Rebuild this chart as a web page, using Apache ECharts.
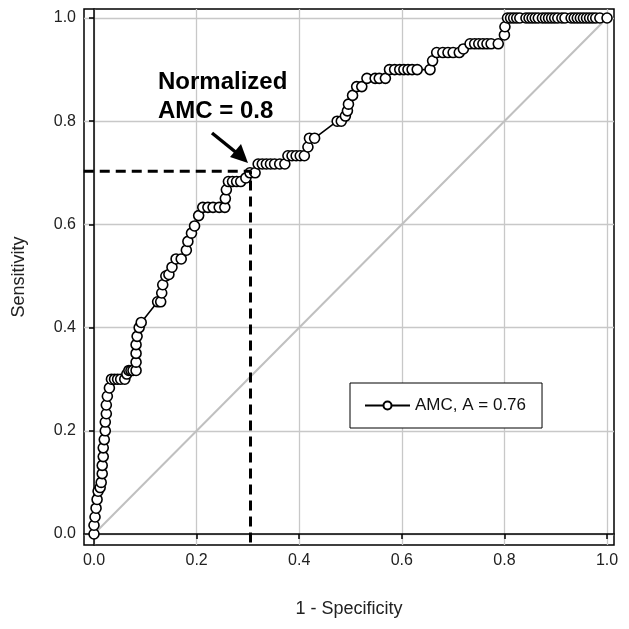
<!DOCTYPE html>
<html>
<head>
<meta charset="utf-8">
<script src="https://cdn.jsdelivr.net/npm/echarts@6/dist/echarts.min.js"></script>
<style>
html,body{margin:0;padding:0;background:#fff;}
#c{width:629px;height:629px;}
</style>
</head>
<body>
<div id="c"></div>
<script>
// ROC curve data (1 - specificity, sensitivity)
var fpr = [
0.000,0.000,0.002,0.004,0.006,0.008,0.012,0.014,0.016,0.016,0.018,0.018,0.020,0.022,0.022,0.024,0.024,0.026,0.030,0.034,
0.040,0.046,0.052,0.060,0.064,0.068,0.072,0.076,0.082,0.082,0.082,0.082,0.084,0.088,0.092,0.124,0.130,0.132,0.134,0.140,
0.146,0.152,0.160,0.170,0.180,0.183,0.190,0.196,0.204,0.212,0.222,0.232,0.244,0.255,0.256,0.258,0.262,0.270,0.278,0.286,
0.296,0.304,0.314,0.320,0.328,0.336,0.344,0.352,0.362,0.372,0.378,0.386,0.394,0.402,0.410,0.417,0.420,0.430,0.474,0.482,
0.490,0.494,0.496,0.504,0.512,0.522,0.532,0.548,0.556,0.568,0.576,0.586,0.596,0.604,0.612,0.620,0.630,0.655,0.660,0.668,
0.680,0.690,0.700,0.712,0.720,0.733,0.742,0.750,0.758,0.766,0.774,0.788,0.800,0.801,0.806,0.812,0.818,0.824,0.830,0.842,
0.848,0.854,0.860,0.866,0.874,0.880,0.886,0.892,0.898,0.904,0.912,0.918,0.930,0.936,0.942,0.948,0.954,0.960,0.966,0.972,
0.978,0.986,1.000
];
var tpr = [
0.000,0.017,0.033,0.050,0.067,0.083,0.090,0.100,0.117,0.133,0.150,0.167,0.183,0.200,0.217,0.233,0.250,0.267,0.283,0.300,
0.300,0.300,0.300,0.300,0.310,0.317,0.317,0.317,0.317,0.333,0.350,0.367,0.383,0.400,0.410,0.450,0.450,0.467,0.483,0.500,
0.503,0.517,0.533,0.533,0.550,0.567,0.583,0.597,0.617,0.633,0.633,0.633,0.633,0.633,0.650,0.667,0.683,0.683,0.683,0.683,
0.690,0.700,0.700,0.717,0.717,0.717,0.717,0.717,0.717,0.717,0.733,0.733,0.733,0.733,0.733,0.750,0.767,0.767,0.800,0.800,
0.810,0.820,0.833,0.850,0.867,0.867,0.883,0.883,0.883,0.883,0.900,0.900,0.900,0.900,0.900,0.900,0.900,0.900,0.917,0.933,
0.933,0.933,0.933,0.933,0.940,0.950,0.950,0.950,0.950,0.950,0.950,0.950,0.967,0.983,1.000,1.000,1.000,1.000,1.000,1.000,
1.000,1.000,1.000,1.000,1.000,1.000,1.000,1.000,1.000,1.000,1.000,1.000,1.000,1.000,1.000,1.000,1.000,1.000,1.000,1.000,
1.000,1.000,1.000
];
var tickValues = [0, 0.2, 0.4, 0.6, 0.8, 1.0];
var diagX = [0, 1];
var diagY = [0, 1];
var cutX = [-0.02, 0.305, 0.305];
var cutY = [0.703, 0.703, -0.025];
var seriesName = 'AMC, A = 0.76';
var annotation = 'Normalized\nAMC = 0.8';

function pairs(a, b) { return a.map(function (v, i) { return [v, b[i]]; }); }

var font = 'Arial, "Liberation Sans", sans-serif';
var chart = echarts.init(document.getElementById('c'), null, {renderer: 'canvas'});
var axisCommon = {
  type: 'value',
  nameLocation: 'middle',
  nameTextStyle: {fontFamily: font, fontSize: 18, color: '#222'},
  axisLine: {show: true, lineStyle: {color: '#000', width: 1.5}},
  axisTick: {show: true, inside: false, length: 5, customValues: tickValues, lineStyle: {color: '#000', width: 1.5}},
  axisLabel: {customValues: tickValues, fontFamily: font, fontSize: 16, color: '#222', formatter: function (v) { return v.toFixed(1); }},
  splitLine: {show: true, lineStyle: {color: '#c8c8c8', width: 1.3}}
};
chart.setOption({
  animation: false,
  backgroundColor: '#fff',
  grid: {left: 84, top: 9, right: 15, bottom: 84, show: true, borderColor: '#000', borderWidth: 1.5, backgroundColor: 'transparent'},
  xAxis: Object.assign({}, axisCommon, {min: -0.0195, max: 1.0136, name: '1 - Specificity', nameGap: 55,
    axisLabel: Object.assign({}, axisCommon.axisLabel, {margin: 8})}),
  yAxis: Object.assign({}, axisCommon, {min: -0.0213, max: 1.0174, name: 'Sensitivity', nameGap: 56,
    axisLabel: Object.assign({}, axisCommon.axisLabel, {margin: 8})}),
  legend: {
    data: [seriesName], left: 350, top: 383, orient: 'vertical',
    backgroundColor: '#fff', borderColor: '#000', borderWidth: 1,
    padding: [14, 16, 14, 14], itemWidth: 45, itemHeight: 10, itemGap: 5,
    textStyle: {fontFamily: font, fontSize: 17, color: '#111'}
  },
  graphic: [
    {type: 'text', left: 158, top: 68, z: 100, style: {text: annotation, font: 'bold 24px ' + font, fill: '#000', lineHeight: 29}},
    {type: 'line', z: 100, shape: {x1: 212, y1: 133, x2: 238, y2: 154}, style: {stroke: '#000', lineWidth: 3.5}},
    {type: 'polygon', z: 100, shape: {points: [[248, 163], [230, 157], [241, 144]]}, style: {fill: '#000'}}
  ],
  series: [
    {type: 'line', name: 'diag', data: pairs(diagX, diagY), symbol: 'none', silent: true, z: 1,
      lineStyle: {color: '#c0c0c0', width: 2}},
    {type: 'line', name: seriesName, data: pairs(fpr, tpr), symbol: 'circle', symbolSize: 10, z: 3,
      showAllSymbol: true,
      lineStyle: {color: '#000', width: 1.6},
      itemStyle: {color: '#fff', borderColor: '#000', borderWidth: 1.6}},
    {type: 'line', name: 'cut', data: pairs(cutX, cutY), symbol: 'none', z: 4, silent: true,
      lineStyle: {color: '#000', width: 3, type: [10, 6]}}
  ]
});
</script>
</body>
</html>
